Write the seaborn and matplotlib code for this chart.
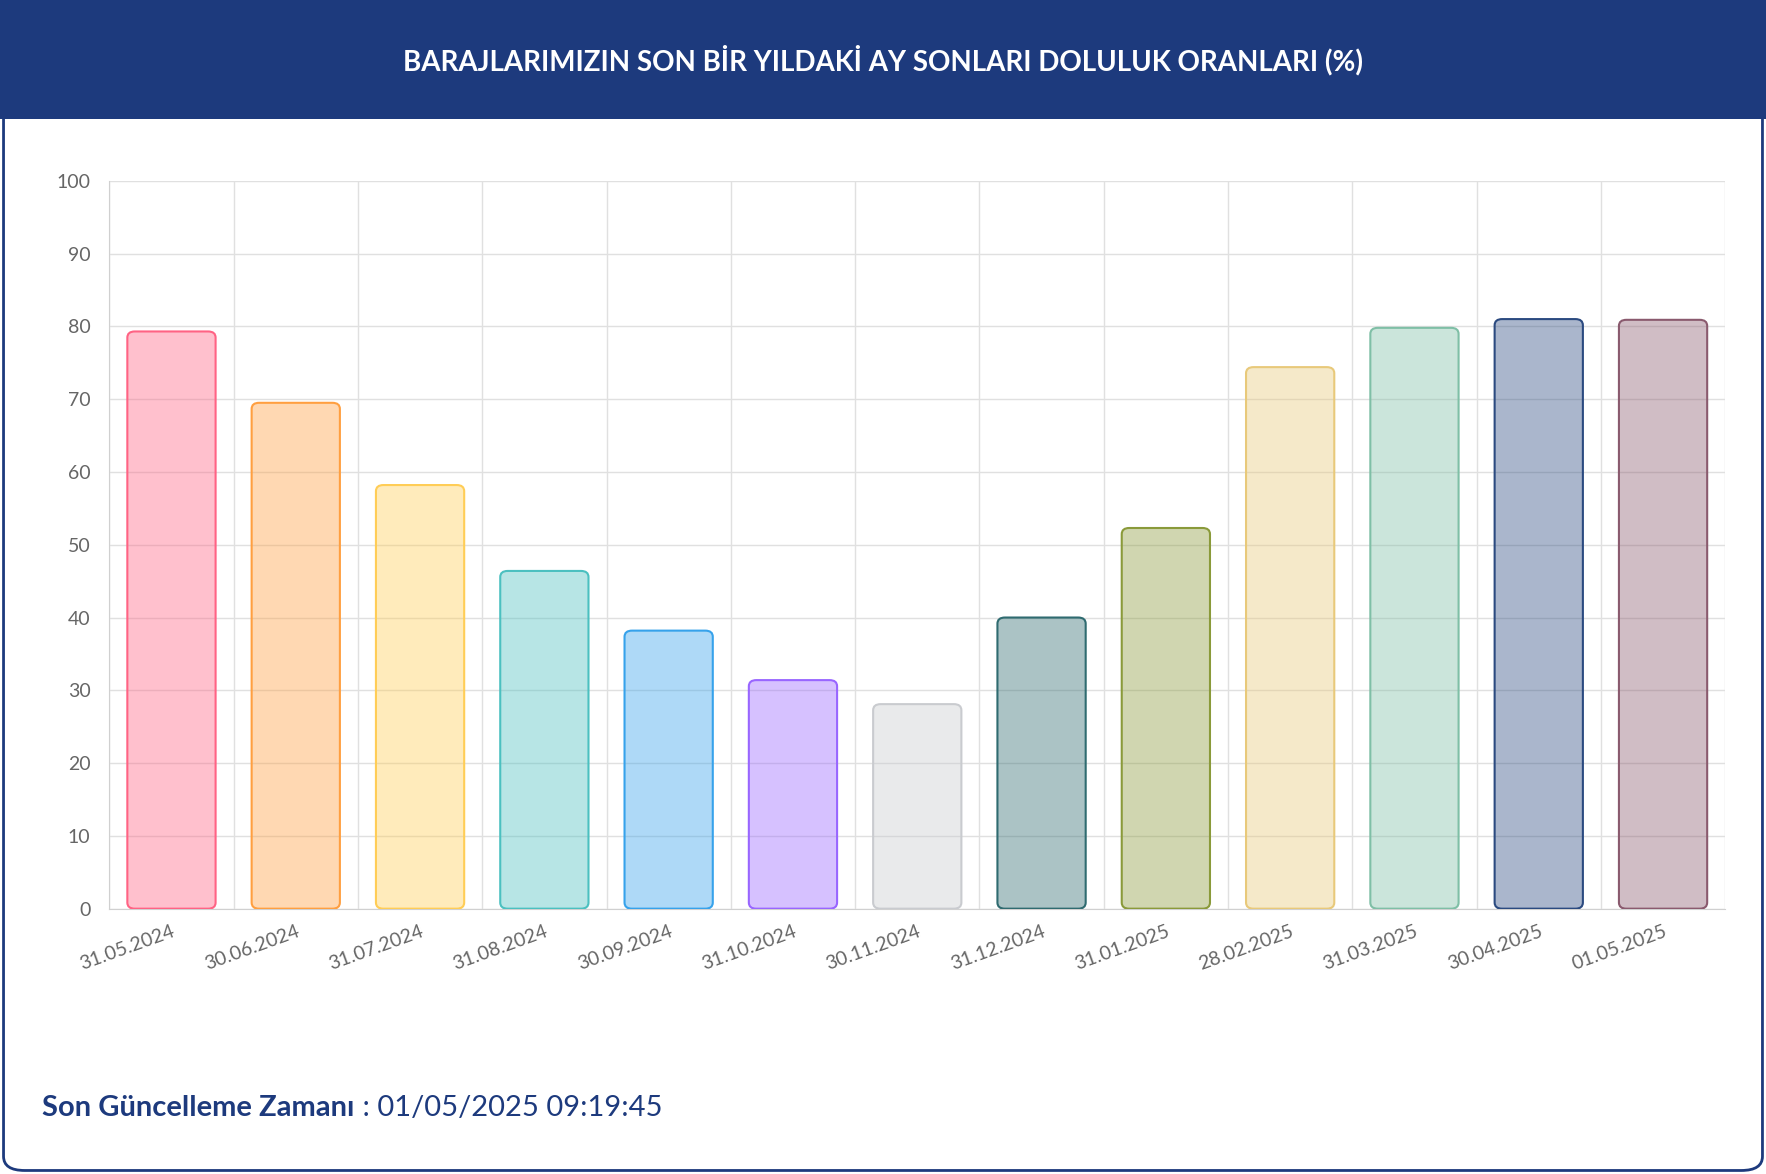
import matplotlib
matplotlib.use("Agg")
import matplotlib.pyplot as plt
import seaborn as sns
import pandas as pd
from matplotlib.patches import FancyBboxPatch, Rectangle
from matplotlib.colors import to_rgba

dates = ["31.05.2024","30.06.2024","31.07.2024","31.08.2024","30.09.2024","31.10.2024",
         "30.11.2024","31.12.2024","31.01.2025","28.02.2025","31.03.2025","30.04.2025","01.05.2025"]
values = [79.3, 69.5, 58.2, 46.4, 38.2, 31.4, 28.1, 40.0, 52.3, 74.4, 79.8, 81.0, 80.9]
colors = ["#ff6384","#ff9f40","#ffcd56","#4bc0c0","#36a2eb","#9966ff","#c9cbcf",
          "#2f6b70","#8a9a3a","#e8c97a","#7fbfa6","#2b4a80","#8a5a6e"]

sns.set_style("white")
plt.rcParams['font.family'] = ['Lato', 'DejaVu Sans']
df = pd.DataFrame({"date": dates, "val": values})

fig = plt.figure(figsize=(17.66, 11.74), dpi=100)
navy = "#1d3a7d"
fig.patches.append(FancyBboxPatch((0.002, 0.003), 0.996, 0.99, boxstyle="round,pad=0,rounding_size=0.012",
                                  transform=fig.transFigure, fc="white", ec=navy, lw=2, zorder=0))
fig.patches.append(Rectangle((0, 0.899), 1, 0.101, transform=fig.transFigure, fc=navy, ec="none", zorder=1))
fig.text(0.5, 0.949, "BARAJLARIMIZIN SON BİR YILDAKİ AY SONLARI DOLULUK ORANLARI (%)",
         color="white", fontsize=20, fontweight="bold", ha="center", va="center")
t = fig.text(0.024, 0.056, "Son Güncelleme Zamanı", color=navy, fontsize=21, fontweight="bold", va="center")
fig.canvas.draw()
bb = t.get_window_extent().transformed(fig.transFigure.inverted())
fig.text(bb.x1, 0.056, " : 01/05/2025 09:19:45", color=navy, fontsize=21, va="center")

ax = fig.add_axes([0.0619, 0.226, 0.915, 0.62])
ax.set_zorder(5)
ax.patch.set_alpha(0)
sns.barplot(data=df, x="date", y="val", hue="date", palette=colors, legend=False, width=0.71, ax=ax, zorder=2)
for p, c in zip(list(ax.patches), colors):
    x, y, w, h = p.get_x(), p.get_y(), p.get_width(), p.get_height()
    p.set_visible(False)
    ax.add_patch(FancyBboxPatch((x, y), w, h, boxstyle="round,pad=0,rounding_size=0.06",
                                mutation_aspect=14, fc=to_rgba(c, 0.4), ec=c, lw=1.5, zorder=3))
ax.set_ylim(0, 100)
ax.set_xlim(-0.5, len(dates) - 0.5)
ax.set_yticks(range(0, 101, 10))
ax.set_xticks([i + 0.5 for i in range(-1, len(dates))], minor=True)
ax.grid(True, axis="y", color="#e0e0e0", lw=1, zorder=0)
ax.grid(True, axis="x", which="minor", color="#e0e0e0", lw=1, zorder=0)
ax.tick_params(axis="x", which="major", length=0, pad=10)
ax.tick_params(axis="x", which="minor", length=10, color="#d0d0d0")
ax.tick_params(axis="y", length=10, color="#d0d0d0", labelsize=14, labelcolor="#666666")
ax.set_xticks(range(len(dates)))
ax.set_xticklabels(dates, rotation=20, ha="right", rotation_mode="anchor", fontsize=14, color="#666666")
ax.set_xlabel(""); ax.set_ylabel("")
for s in ["top", "right"]:
    ax.spines[s].set_visible(False)
for s in ["left", "bottom"]:
    ax.spines[s].set_color("#d0d0d0")
fig.savefig("out.png", dpi=100)
